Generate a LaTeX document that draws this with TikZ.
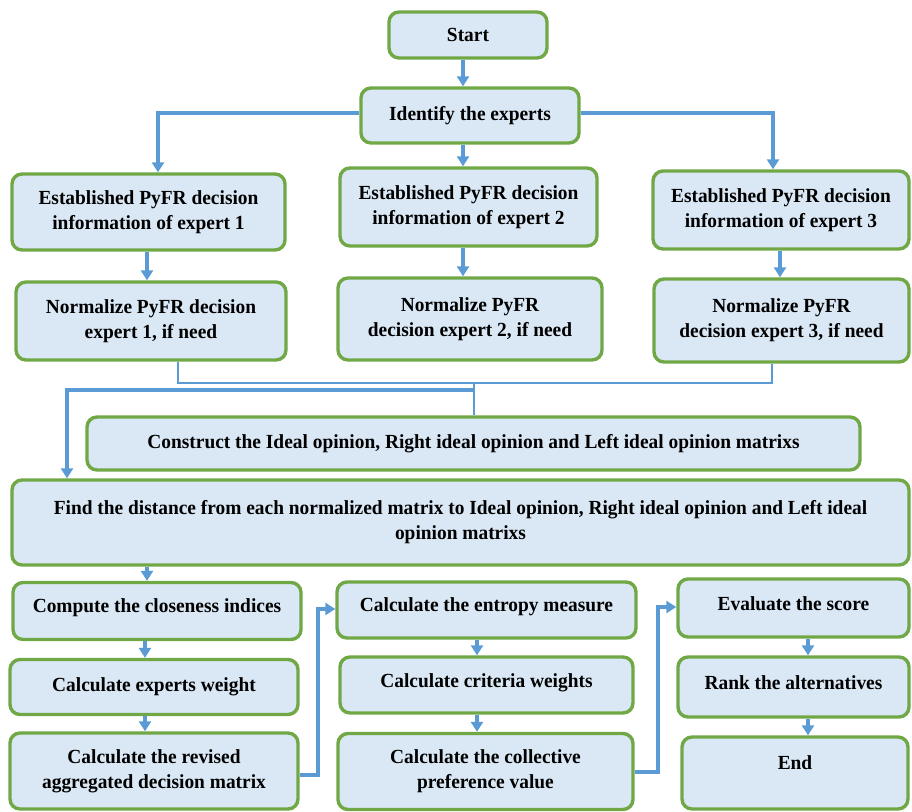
\documentclass[tikz,border=0pt]{standalone}
\usepackage{fontspec}
\setmainfont{Liberation Serif}[FakeStretch=0.97]
\usetikzlibrary{arrows.meta,calc}
\definecolor{boxgreen}{RGB}{112,168,70}
\definecolor{boxfill}{RGB}{218,232,245}
\definecolor{arrblue}{RGB}{91,155,213}
\newcommand{\upby}[2]{\raisebox{#1}[\height][\depth]{#2}}
\begin{document}
\begin{tikzpicture}[x=1pt,y=-1pt,
  box/.style={draw=boxgreen, line width=3.4pt, fill=boxfill, rounded corners=10pt,
    align=center, inner sep=0pt, font=\bfseries\fontsize{20}{25}\selectfont},
  arr/.style={draw=arrblue, line width=3.2pt, -{Triangle[width=12pt,length=10pt]}},
  thinl/.style={draw=arrblue, line width=1.6pt}]
\useasboundingbox (0,0) rectangle (912,811);
% nodes
\node[box, minimum width=158pt, minimum height=46pt] (start) at (468,35) {Start};
\node[box, minimum width=218pt, minimum height=55pt] (ident) at (470,115.5) {Identify the experts};
\node[box, minimum width=273pt, minimum height=76pt] (est1) at (148.5,212) {Established PyFR decision\\information of expert 1};
\node[box, minimum width=257pt, minimum height=78pt] (est2) at (468.5,207) {Established PyFR decision\\information of expert 2};
\node[box, minimum width=256pt, minimum height=78pt] (est3) at (781,210) {Established PyFR decision\\information of expert 3};
\node[box, minimum width=270pt, minimum height=78pt] (norm1) at (151,321) {Normalize PyFR decision\\expert 1, if need};
\node[box, minimum width=264pt, minimum height=82pt] (norm2) at (470,319) {Normalize PyFR\\decision expert 2, if need};
\node[box, minimum width=255pt, minimum height=83pt] (norm3) at (781.5,320.5) {Normalize PyFR\\decision expert 3, if need};
\node[box, minimum width=773pt, minimum height=53pt] (construct) at (473.5,443.5) {Construct the Ideal opinion, Right ideal opinion and Left ideal opinion matrixs};
\node[box, minimum width=897pt, minimum height=85pt] (find) at (460.5,522.5) {Find the distance from each normalized matrix to Ideal opinion, Right ideal opinion and Left ideal\\opinion matrixs};
\node[box, minimum width=288pt, minimum height=57pt] (compute) at (157,611) {\upby{3pt}{Compute the closeness indices}};
\node[box, minimum width=288pt, minimum height=55pt] (expw) at (154,687) {Calculate experts weight};
\node[box, minimum width=288pt, minimum height=76pt] (revised) at (154,771) {Calculate the revised\\aggregated decision matrix};
\node[box, minimum width=299pt, minimum height=56pt] (entropy) at (486.5,610) {\upby{3pt}{Calculate the entropy measure}};
\node[box, minimum width=293pt, minimum height=56pt] (criteria) at (486.5,685) {\upby{2pt}{Calculate criteria weights}};
\node[box, minimum width=295pt, minimum height=76pt] (collective) at (485.5,771.5) {Calculate the collective\\preference value};
\node[box, minimum width=231pt, minimum height=58pt] (evaluate) at (793.5,608) {\upby{4pt}{Evaluate the score}};
\node[box, minimum width=231pt, minimum height=60pt] (rank) at (793.5,687) {\upby{4pt}{Rank the alternatives}};
\node[box, minimum width=226pt, minimum height=72pt] (end) at (795,773) {\upby{10pt}{End}};
% column / row helper coordinates
\coordinate (xa) at (158,0);
\coordinate (xb) at (463,0);
\coordinate (xc) at (773,0);
\coordinate (xd) at (147,0);
\coordinate (xe) at (780,0);
\coordinate (xf) at (178,0);
\coordinate (xg) at (772,0);
\coordinate (xh) at (474,0);
\coordinate (xi) at (67,0);
\coordinate (xj) at (145,0);
\coordinate (xk) at (477,0);
\coordinate (xl) at (808,0);
\coordinate (xs) at (318,0);
\coordinate (xt) at (658,0);
\coordinate (ya) at (0,113);
\coordinate (ym) at (0,383);
\coordinate (yn) at (0,390);
\coordinate (yr) at (0,775);
\coordinate (ys) at (0,609);
\coordinate (yu) at (0,772);
\coordinate (yv) at (0,607);
% connectors
\draw[arr] (start.south -| xb) -- (ident.north -| xb);
\draw[arr] (ident.west |- ya) -| (est1.north -| xa);
\draw[arr] (ident.south -| xb) -- (est2.north -| xb);
\draw[arr] (ident.east |- ya) -| (est3.north -| xc);
\draw[arr] (est1.south -| xd) -- (norm1.north -| xd);
\draw[arr] (est2.south -| xb) -- (norm2.north -| xb);
\draw[arr] (est3.south -| xe) -- (norm3.north -| xe);
\draw[thinl] (norm1.south -| xf) |- (xg |- ym) -- (norm3.south -| xg);
\draw[thinl] (xh |- ym) -- (construct.north -| xh);
\draw[arr] (xh |- yn) -| (find.north -| xi);
\draw[arr] (find.south -| xd) -- (compute.north -| xd);
\draw[arr] (compute.south -| xj) -- (expw.north -| xj);
\draw[arr] (expw.south -| xj) -- (revised.north -| xj);
\draw[arr] (revised.east |- yr) -| (xs |- ys) -- (entropy.west |- ys);
\draw[arr] (entropy.south -| xk) -- (criteria.north -| xk);
\draw[arr] (criteria.south -| xk) -- (collective.north -| xk);
\draw[arr] (collective.east |- yu) -| (xt |- yv) -- (evaluate.west |- yv);
\draw[arr] (evaluate.south -| xl) -- (rank.north -| xl);
\draw[arr] (rank.south -| xl) -- (end.north -| xl);
\end{tikzpicture}
\end{document}
